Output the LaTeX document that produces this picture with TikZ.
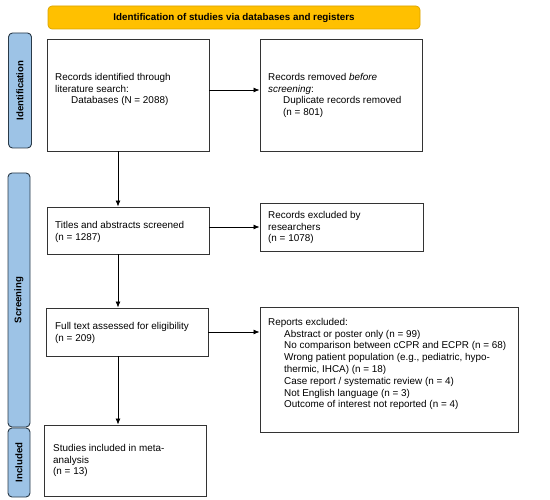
\documentclass[tikz,border=0pt]{standalone}
\usepackage{fontspec}
\setmainfont{Liberation Sans}
\usetikzlibrary{arrows.meta}
\definecolor{bannerY}{HTML}{FFC000}
\definecolor{bannerB}{HTML}{D9A300}
\definecolor{sideB}{HTML}{9DC3E6}
\definecolor{sideD}{HTML}{2A3A48}
\definecolor{boxD}{HTML}{333333}
\begin{document}
\begin{tikzpicture}[x=1pt,y=-1pt,
  stagebox/.style={draw=boxD,line width=0.9pt,fill=white,inner sep=0pt},
  txt/.style={anchor=north west,inner sep=0pt,align=left,font=\fontsize{9.9}{11.8}\selectfont},
  sidebox/.style={draw=sideD,line width=0.9pt,fill=sideB,rounded corners=4pt,inner sep=0pt},
  sidetxt/.style={rotate=90,font=\bfseries\fontsize{9.6}{10}\selectfont,inner sep=0pt},
  arr/.style={line width=0.8pt,-{Latex[length=6pt,width=5pt]}}]
\useasboundingbox (0,0) rectangle (550,500);
% banner
\node (ban) [draw=bannerB,line width=0.7pt,fill=bannerY,rounded corners=4pt,minimum width=372pt,minimum height=23pt,inner sep=0pt,font=\bfseries\fontsize{9.8}{10}\selectfont] at (234,17.5) {Identification of studies via databases and registers};
% side labels
\node (sid) [sidebox,minimum width=23pt,minimum height=115pt] at (20,90.5) {};
\node (sidt) [sidetxt] at (sid.center) {Identification};
\node (sscr) [sidebox,minimum width=22pt,minimum height=254pt] at (19,300) {};
\node (sscrt) [sidetxt] at (sscr.center) {Screening};
\node (sinc) [sidebox,minimum width=22pt,minimum height=69pt] at (19,462.5) {};
\node (sinct) [sidetxt] at (sinc.center) {Included};
% boxes
\node (b1) [stagebox,minimum width=162pt,minimum height=112pt] at (128,95) {};
\node (b2) [stagebox,minimum width=162pt,minimum height=112pt] at (341,95) {};
\node (b3) [stagebox,minimum width=162pt,minimum height=47pt] at (128,230.5) {};
\node (b4) [stagebox,minimum width=163pt,minimum height=48pt] at (341.5,227) {};
\node (b5) [stagebox,minimum width=162pt,minimum height=48pt] at (127,332) {};
\node (b6) [stagebox,minimum width=258pt,minimum height=125pt] at (389,369.5) {};
\node (b7) [stagebox,minimum width=162pt,minimum height=71pt] at (125,460.5) {};
% texts
\node (t1) [txt] at (55,73) {Records identified through\\literature search:\\\hspace*{16pt}Databases (N = 2088)};
\node (t2) [txt] at (268,73) {Records removed \emph{before}\\\emph{screening}:\\\hspace*{15pt}Duplicate records removed\\\hspace*{15pt}(n = 801)};
\node (t3) [txt] at (55,221) {Titles and abstracts screened\\(n = 1287)};
\node (t4) [txt] at (268,211) {Records excluded by\\researchers\\(n = 1078)};
\node (t5) [txt] at (55,322) {Full text assessed for eligibility\\(n = 209)};
\node (t6) [txt] at (268,318) {Reports excluded:\\
\hspace*{16pt}Abstract or poster only (n = 99)\\
\hspace*{16pt}No comparison between cCPR and ECPR (n = 68)\\
\hspace*{16pt}Wrong patient population (e.g., pediatric, hypo-\\
\hspace*{16pt}thermic, IHCA) (n = 18)\\
\hspace*{16pt}Case report / systematic review (n = 4)\\
\hspace*{16pt}Not English language (n = 3)\\
\hspace*{16pt}Outcome of interest not reported (n = 4)};
\node (t7) [txt] at (53,444) {Studies included in meta-\\analysis\\(n = 13)};
% arrows
\draw[arr] ([yshift=5pt]b1.east) -- ([yshift=5pt]b1.east -| b2.west);
\draw[arr] ([xshift=-10pt]b1.south) -- ([xshift=-10pt]b1.south |- b3.north);
\draw[arr] (b3.east |- b4.west) -- (b4.west);
\draw[arr] ([xshift=-10pt]b3.south) -- ([xshift=-10pt]b3.south |- b5.north);
\draw[arr] (b5.east) -- (b5.east -| b6.west);
\draw[arr] ([xshift=-9pt]b5.south) -- ([xshift=-9pt]b5.south |- b7.north);
\end{tikzpicture}
\end{document}
